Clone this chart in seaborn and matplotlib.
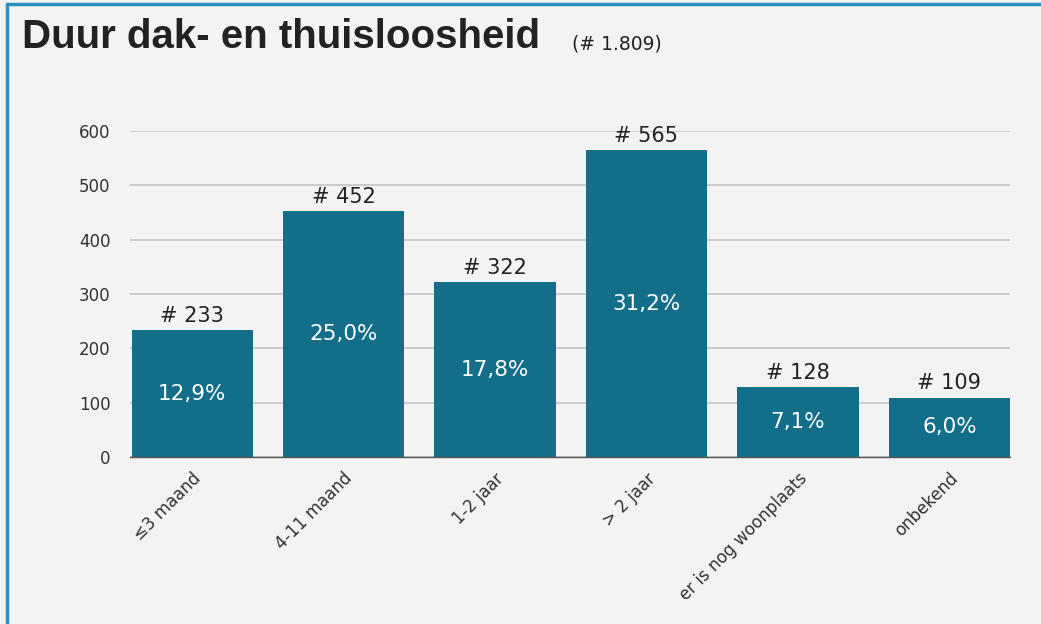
import matplotlib
matplotlib.use("Agg")
import matplotlib.pyplot as plt
import seaborn as sns
import pandas as pd

categories = ["≤3 maand", "4-11 maand", "1-2 jaar", "> 2 jaar", "er is nog woonplaats", "onbekend"]
counts = [233, 452, 322, 565, 128, 109]
percents = ["12,9%", "25,0%", "17,8%", "31,2%", "7,1%", "6,0%"]
yticks = [0, 100, 200, 300, 400, 500, 600]

bg = "#f3f3f3"
bar_color = "#126e89"

sns.set_theme(style="white")
plt.rcParams['font.family'] = ['DejaVu Sans']

fig = plt.figure(figsize=(10.41, 6.24), dpi=100, facecolor=bg)
ax = fig.add_axes([130/1041, 1 - 457/624, (1010-130)/1041, 326/624])
ax.set_facecolor(bg)

df = pd.DataFrame({"cat": categories, "n": counts})
sns.barplot(data=df, x="cat", y="n", color=bar_color, saturation=1, width=0.8,
            linewidth=0, ax=ax)
ax.set_xlim(-0.41, 5.4)
ax.set_ylim(0, 600)
ax.set_yticks(yticks)
ax.set_yticklabels([str(t) for t in yticks], fontsize=12, color="#333333")
ax.yaxis.grid(True, color="#c4c4c4", linewidth=1.2)
ax.set_axisbelow(True)
for s in ["top", "right", "left"]:
    ax.spines[s].set_visible(False)
ax.spines["bottom"].set_color("#555555")
ax.spines["bottom"].set_linewidth(1)
ax.tick_params(axis="y", length=0, pad=14)
ax.tick_params(axis="x", length=0, pad=9)
ax.set_xlabel("")
ax.set_ylabel("")
ax.set_xticks(range(len(categories)))
ax.set_xticklabels(categories, rotation=45, ha="right", rotation_mode="anchor",
                   fontsize=12, color="#333333")

for i, (n, p) in enumerate(zip(counts, percents)):
    ax.text(i, n + 8, f"# {n}", ha="center", va="bottom", fontsize=15, color="#222222")
    ax.text(i, n / 2, p, ha="center", va="center", fontsize=15.5, color="white")

fig.text(22/1041, 1 - 37/624, "Duur dak- en thuisloosheid", fontsize=29, fontweight="bold",
         family=['Liberation Sans', 'DejaVu Sans'],
         color="#222222", va="center", ha="left")
fig.text(572/1041, 1 - 44/624, "(# 1.809)", fontsize=13.5, color="#222222", va="center", ha="left")

# border
fig.add_artist(plt.Line2D([7/1041, 1], [1 - 4/624, 1 - 4/624], transform=fig.transFigure,
                          color="#2a8fbd", linewidth=2.5))
fig.add_artist(plt.Line2D([7/1041, 7/1041], [0, 1 - 4/624], transform=fig.transFigure,
                          color="#2a8fbd", linewidth=2.5))

fig.savefig("out.png", dpi=100, facecolor=bg)
